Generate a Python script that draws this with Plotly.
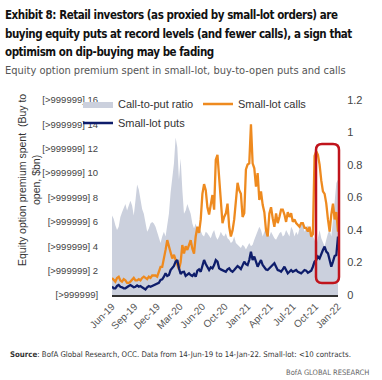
import plotly.graph_objects as go
import pandas as pd

# ---------------- data ----------------
dates = pd.date_range("2019-06-14", periods=136, freq="7D")  # weekly, 14-Jun-19 .. 14-Jan-22

calls = [1.4, 1.2, 1.1, 1.4, 1.5, 1.2, 1.1, 1.3, 1.2, 1.0,
         1.0, 1.1, 1.3, 1.4, 1.2, 1.2, 1.3, 1.2, 1.4, 1.5,
         1.4, 1.3, 1.5, 1.4, 1.6, 1.6, 1.6, 1.5, 1.9, 2.3,
         2.3, 2.9, 3.7, 4.5, 4.0, 3.4, 3.0, 3.3, 2.9, 2.5,
         2.1, 2.7, 4.1, 3.4, 4.0, 3.7, 4.1, 4.5, 3.8, 3.4,
         4.8, 5.6, 5.1, 6.2, 8.3, 9.1, 8.6, 7.2, 6.6, 7.5,
         8.2, 7.0, 11.1, 11.5, 9.4, 7.2, 5.9, 6.4, 6.7, 7.5,
         5.6, 4.8, 5.3, 6.2, 7.8, 9.2, 8.6, 8.3, 6.4, 6.7,
         10.3, 10.7, 10.8, 14.0, 10.8, 10.4, 8.9, 10.0, 7.8, 8.5,
         7.4, 6.8, 5.3, 4.8, 6.7, 7.2, 6.3, 5.6, 6.7, 5.9,
         6.4, 7.0, 7.0, 6.6, 6.0, 6.8, 6.4, 6.7, 6.0, 6.2,
         5.9, 5.7, 5.6, 5.9, 5.9, 5.5, 5.5, 5.2, 5.6, 4.8,
         5.0, 11.4, 11.8, 11.5, 10.7, 9.4, 8.5, 8.3, 7.5, 6.2,
         5.2, 6.6, 7.5, 6.2, 6.8, 5.2]

puts = [0.70, 0.55, 0.55, 0.74, 0.82, 0.68, 0.63, 0.55, 0.55, 0.68,
        0.74, 0.82, 0.74, 0.63, 0.68, 0.79, 0.68, 0.74, 0.63, 0.52,
        0.46, 0.63, 0.74, 0.68, 0.74, 0.82, 0.90, 0.90, 1.00, 1.23,
        1.29, 1.50, 1.78, 1.56, 1.64, 2.05, 2.19, 2.38, 2.74, 2.87,
        2.19, 1.72, 1.89, 1.91, 1.56, 1.64, 1.78, 1.64, 1.56, 1.72,
        1.50, 2.00, 2.10, 1.91, 2.38, 2.87, 2.54, 2.27, 2.05, 2.27,
        2.19, 2.46, 2.87, 2.74, 2.19, 2.10, 2.05, 2.00, 1.91, 2.10,
        2.19, 2.00, 1.91, 2.05, 2.19, 2.38, 2.27, 2.13, 2.43, 2.74,
        2.54, 2.46, 2.87, 3.56, 2.87, 3.15, 2.74, 2.32, 2.60, 2.87,
        2.46, 2.32, 2.10, 2.05, 2.19, 2.27, 2.46, 2.60, 2.32, 2.05,
        2.00, 1.91, 2.10, 2.32, 2.05, 1.78, 1.91, 2.05, 1.91, 2.00,
        2.05, 1.91, 1.83, 1.78, 1.91, 2.05, 2.00, 1.83, 1.91, 2.00,
        2.32, 2.74, 2.87, 3.15, 3.00, 3.42, 3.69, 3.97, 3.56, 3.42,
        2.87, 2.32, 2.74, 3.20, 3.28, 4.79]

ratio = [0.49, 0.47, 0.43, 0.40, 0.42, 0.48, 0.51, 0.54, 0.56, 0.52,
         0.55, 0.58, 0.55, 0.49, 0.58, 0.68, 0.65, 0.59, 0.53, 0.50,
         0.44, 0.39, 0.41, 0.44, 0.45, 0.44, 0.42, 0.39, 0.35, 0.32,
         0.36, 0.39, 0.36, 0.42, 0.50, 0.63, 0.73, 0.81, 0.97, 0.91,
         0.71, 0.84, 0.65, 0.50, 0.52, 0.56, 0.53, 0.50, 0.44, 0.41,
         0.44, 0.40, 0.42, 0.39, 0.37, 0.36, 0.39, 0.38, 0.36, 0.35,
         0.38, 0.40, 0.36, 0.34, 0.36, 0.39, 0.37, 0.36, 0.38, 0.35,
         0.34, 0.32, 0.33, 0.36, 0.32, 0.31, 0.30, 0.29, 0.31, 0.30,
         0.28, 0.30, 0.32, 0.30, 0.31, 0.34, 0.37, 0.39, 0.42, 0.40,
         0.36, 0.39, 0.41, 0.38, 0.36, 0.39, 0.37, 0.35, 0.34, 0.36,
         0.38, 0.39, 0.36, 0.37, 0.40, 0.38, 0.36, 0.42, 0.40, 0.36,
         0.39, 0.37, 0.42, 0.45, 0.44, 0.39, 0.41, 0.43, 0.40, 0.38,
         0.36, 0.34, 0.30, 0.36, 0.40, 0.35, 0.32, 0.30, 0.34, 0.38,
         0.40, 0.36, 0.46, 0.56, 0.69, 0.71]

x_tick_labels = ["Jun-19", "Sep-19", "Dec-19", "Mar-20", "Jun-20", "Oct-20",
                 "Jan-21", "Apr-21", "Jul-21", "Oct-21", "Jan-22"]
left_ticks = [0, 2, 4, 6, 8, 10, 12, 14, 16]
left_labels = ["[>999999]"] + ["[>999999] %d" % v for v in left_ticks[1:]]
right_ticks = [0, 0.2, 0.4, 0.6, 0.8, 1.0, 1.2]
right_labels = ["0", "0.2", "0.4", "0.6", "0.8", "1", "1.2"]

# ---------------- layout geometry ----------------
W, H = 382, 380
L, R, T, B = 112, 44, 100, 85
PW, PH = W - L - R, H - T - B


def px(x):
    return (x - L) / PW


def py(y):
    return (H - B - y) / PH


GRAY = "#CBD0DD"
ORANGE = "#EE8A1F"
NAVY = "#0E1D6B"
COND = "DejaVu Sans Condensed, Liberation Sans Narrow, sans-serif"
SANS = "Liberation Sans, Arial, sans-serif"

span = dates[-1] - dates[0]
tick_vals = [dates[0] + span * k / (len(x_tick_labels) - 1) for k in range(len(x_tick_labels))]

fig = go.Figure()
fig.add_trace(go.Scatter(x=dates, y=ratio, name="Call-to-put ratio", mode="lines",
                         fill="tozeroy", fillcolor=GRAY, line=dict(width=0, color=GRAY),
                         yaxis="y", legend="legend"))
fig.add_trace(go.Scatter(x=dates, y=calls, name="Small-lot calls", mode="lines",
                         line=dict(width=2.3, color=ORANGE), yaxis="y2", legend="legend2"))
fig.add_trace(go.Scatter(x=dates, y=puts, name="Small-lot puts", mode="lines",
                         line=dict(width=2.3, color=NAVY), yaxis="y2", legend="legend3"))

legend_common = dict(xref="container", yref="container", xanchor="left", yanchor="middle",
                     bgcolor="rgba(0,0,0,0)", font=dict(family=SANS, size=11, color="#333"),
                     itemwidth=30)

# rounded red highlight box (pixel geometry -> paper coords)
bx0, bx1, by0, by1, rad = 316, 339, 144, 283, 6
path = ("M{a},{b} L{c},{b} Q{d},{b} {d},{e} L{d},{f} Q{d},{g} {c},{g} "
        "L{a},{g} Q{h},{g} {h},{f} L{h},{e} Q{h},{b} {a},{b} Z").format(
    a=px(bx0 + rad), b=py(by0), c=px(bx1 - rad), d=px(bx1), e=py(by0 + rad),
    f=py(by1 - rad), g=py(by1), h=px(bx0))

TS = 'letter-spacing:-0.45px'
annotations = [
    dict(text="<span style='%s'><b>Exhibit 8: Retail investors (as proxied by small-lot orders) are</b></span>" % TS,
         x=px(3), y=py(15), font=dict(family=COND, size=11.5, color="#111")),
    dict(text="<span style='%s'><b>buying equity puts at record levels (and fewer calls), a sign that</b></span>" % TS,
         x=px(3), y=py(34), font=dict(family=COND, size=11.5, color="#111")),
    dict(text="<span style='%s'><b>optimism on dip-buying may be fading</b></span>" % TS,
         x=px(3), y=py(52), font=dict(family=COND, size=11.5, color="#111")),
    dict(text="Equity option premium spent in small-lot, buy-to-open puts and calls",
         x=px(3), y=py(70), font=dict(family=COND, size=11, color="#555")),
    dict(text="<b>Source</b>: BofA Global Research, OCC. Data from 14-Jun-19 to 14-Jan-22. Small-lot: <10 contracts.",
         x=px(8), y=py(354), font=dict(family=COND, size=7.8, color="#333")),
]
for a in annotations:
    a.update(xref="paper", yref="paper", xanchor="left", yanchor="middle", showarrow=False)
annotations.append(dict(text="BofA GLOBAL RESEARCH", x=px(371), y=py(372), xref="paper", yref="paper",
                        xanchor="right", yanchor="middle", showarrow=False,
                        font=dict(family=COND, size=7.5, color="#666")))
annotations.append(dict(text="Equity option premium spent  (Buy to<br>open, $bn)",
                        x=px(29), y=py(180), xref="paper", yref="paper", textangle=-90,
                        xanchor="center", yanchor="middle", showarrow=False,
                        font=dict(family=SANS, size=10.5, color="#333")))

fig.update_layout(
    width=W, height=H,
    margin=dict(l=L, r=R, t=T, b=B, autoexpand=False),
    paper_bgcolor="white", plot_bgcolor="white",
    showlegend=True,
    legend=dict(x=78 / W, y=1 - 104 / H, **legend_common),
    legend2=dict(x=198 / W, y=1 - 104 / H, **legend_common),
    legend3=dict(x=78 / W, y=1 - 123 / H, **legend_common),
    xaxis=dict(type="date", range=[dates[0], dates[-1]], tickvals=tick_vals, ticktext=x_tick_labels,
               tickangle=-45, showgrid=False, zeroline=False, showline=True,
               linecolor="#333", linewidth=1.5, ticks="",
               tickfont=dict(family=SANS, size=10, color="#555")),
    yaxis=dict(range=[0, 1.2], side="right", tickvals=right_ticks, ticktext=right_labels,
               showgrid=False, zeroline=False, showline=False, ticks="outside", ticklen=6,
               tickcolor="rgba(0,0,0,0)", tickfont=dict(family=SANS, size=11, color="#444")),
    yaxis2=dict(range=[0, 16], side="left", overlaying="y", tickvals=left_ticks, ticktext=left_labels,
                showgrid=False, zeroline=False, showline=False, ticks="outside", ticklen=11,
                tickcolor="rgba(0,0,0,0)", tickfont=dict(family=SANS, size=9.5, color="#444")),
    shapes=[dict(type="path", path=path, xref="paper", yref="paper",
                 line=dict(color="#C0141C", width=2.5), fillcolor="rgba(0,0,0,0)")],
    annotations=annotations,
)

fig.write_html("out.html", config={"displayModeBar": False},
               post_script="document.body.style.margin='0';")
